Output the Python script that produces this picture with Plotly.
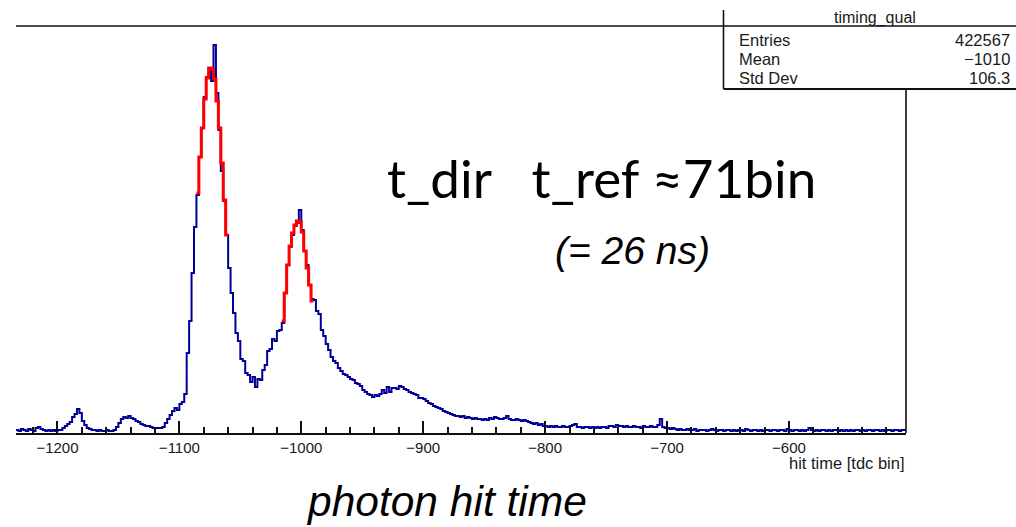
import numpy as np
import plotly.graph_objects as go

# ---- histogram "timing_qual": photon hit time, 2 tdc bins per entry ----
BIN_LO = -1234
BIN_W = 2

counts = [
    # -1233 .. -1105
    90, 60, 120, 90, 60, 120, 90, 60, 150, 180,
    120, 90, 60, 90, 60, 90, 60, 90, 90, 150,
    210, 270, 330, 480, 570, 720, 600, 360, 240, 150,
    120, 90, 90, 60, 90, 60, 60, 90, 60, 60,
    90, 180, 300, 420, 480, 450, 510, 450, 420, 360,
    330, 270, 240, 210, 210, 180, 150, 150, 150, 150,
    180, 300, 420, 540, 660,
    # -1103 .. -1017
    750, 690, 870, 930, 1170, 2400, 3360, 4800, 6180, 7140,
    8280, 9150, 10080, 10680, 10860, 10560, 11640, 10200, 9090, 7860,
    6960, 5940, 4950, 4200, 3600, 3000, 2760, 2220, 2160, 1800,
    1740, 1530, 1680, 1380, 1620, 1590, 1890, 2040, 2460, 2520,
    2820, 2760, 3060, 3090,
    # -1015 .. -871
    3300, 4200, 5040, 5580, 5940, 6210, 6300, 6690, 6090, 5460,
    5040, 4440, 4020, 3990, 3660, 3570, 3090, 2910, 2670, 2490,
    2280, 2160, 2100, 1950, 1860, 1770, 1740, 1680, 1620, 1590,
    1500, 1470, 1410, 1290, 1230, 1170, 1140, 1080, 1140, 1110,
    1170, 1290, 1200, 1380, 1230, 1350, 1350, 1320, 1410, 1380,
    1320, 1290, 1230, 1200, 1170, 1140, 1050, 1050, 1020, 960,
    900, 870, 810, 780, 750, 720, 660, 630, 600, 570,
    540, 510, 510,
    # -869 .. -505
    480, 510, 450, 480, 450, 420, 450, 420, 420, 390,
    420, 390, 450, 420, 480, 450, 420, 420, 450, 510,
    420, 390, 390, 420, 390, 360, 390, 360, 330, 300,
    270, 300, 240, 270, 210, 210, 180, 210, 180, 210,
    180, 180, 210, 180, 180, 210, 240, 270, 180, 180,
    150, 180, 180, 150, 180, 150, 180, 150, 180, 180,
    150, 210, 210, 180, 240, 210, 210, 180, 210, 180,
    180, 210, 180, 180, 150, 210, 180, 180, 210, 180,
    180, 240, 420, 180, 150, 150, 120, 150, 120, 90,
    120, 90, 90, 120, 90, 90, 120, 60, 90, 90,
    90, 60, 90, 120, 90, 60, 90, 90, 60, 90,
    90, 60, 90, 60, 90, 90, 60, 120, 90, 60,
    90, 90, 60, 90, 60, 90, 90, 60, 90, 90,
    60, 90, 90, 60, 120, 90, 60, 90, 90, 60,
    90, 60, 90, 150, 90, 60, 90, 60, 90, 90,
    60, 90, 60, 90, 90, 60, 90, 60, 90, 60,
    90, 60, 90, 90, 60, 90, 60, 90, 90, 60,
    90, 90, 60, 90, 60, 90, 90, 60, 90, 90,
    60, 90, 90,
]

# gaussian fits of the direct and reflected photon peaks
FIT_DIR_LO = -1086
fit_dir = [7200, 8280, 9150, 10020, 10650, 10950, 10920, 10620, 9960, 9150,
           8100, 6990, 5940]
FIT_REF_LO = -1016
fit_ref = [3360, 4200, 5040, 5610, 6000, 6240, 6360, 6330, 6030, 5460,
           4950, 4440, 3960]

X_MIN, X_MAX = -1234, -504
Y_MAX = 12210

major_ticks = [-1200, -1100, -1000, -900, -800, -700, -600]
major_text = ["\u22121200", "\u22121100", "\u22121000", "\u2212900",
              "\u2212800", "\u2212700", "\u2212600"]
minor_ticks = [v for v in range(-1220, -500, 20) if v % 100 != 0]

hist_name = "timing_qual"
stats_labels = ["Entries", "Mean", "Std Dev"]
stats_values = ["422567", "\u22121010", "106.3"]

# ---- page geometry (pixels) ----
W, H = 1016, 527
PL, PR, PT, PB = 16, 906, 26, 433


def px(x):
    return (x - PL) / (PR - PL)


def py(y):
    return (PB - y) / (PB - PT)


def steps(lo, vals):
    edges = lo + BIN_W * np.arange(len(vals) + 1)
    return edges, list(vals) + [vals[-1]]


fig = go.Figure()

hx, hy = steps(BIN_LO, counts)
fig.add_trace(go.Scatter(x=hx, y=hy, mode="lines", line_shape="hv",
                         line=dict(color="#000099", width=2),
                         hoverinfo="skip", showlegend=False))

for lo, vals in ((FIT_DIR_LO, fit_dir), (FIT_REF_LO, fit_ref)):
    fx, fy = steps(lo, vals)
    fig.add_trace(go.Scatter(x=fx, y=fy, mode="lines", line_shape="hv",
                             line=dict(color="#ff0000", width=3),
                             hoverinfo="skip", showlegend=False))

black = "#111111"
line_style = dict(color=black, width=1.6)
shapes = [
    # frame top / stats separator
    dict(type="line", xref="paper", yref="paper",
         x0=px(PL), x1=px(W), y0=py(26), y1=py(26), line=line_style),
    # frame right side below the stats box
    dict(type="line", xref="paper", yref="paper",
         x0=px(906), x1=px(906), y0=py(89), y1=py(PB), line=line_style),
    # stats box
    dict(type="line", xref="paper", yref="paper",
         x0=px(723.5), x1=px(723.5), y0=py(10), y1=py(89), line=line_style),
    dict(type="line", xref="paper", yref="paper",
         x0=px(723.5), x1=px(W), y0=py(89), y1=py(89),
         line=dict(color=black, width=2)),
]

root_font = "Liberation Sans, Arial, sans-serif"
label_font = dict(family=root_font, size=16.5, color="#1a1a1a")
annotations = [
    dict(text=hist_name, x=px(875), y=py(18), xref="paper", yref="paper",
         showarrow=False, xanchor="center", yanchor="middle",
         font=dict(family=root_font, size=16, color="#1a1a1a")),
]
for i, (lab, val) in enumerate(zip(stats_labels, stats_values)):
    yy = 40 + 19 * i
    annotations.append(dict(text=lab, x=px(737), y=py(yy), xref="paper", yref="paper",
                            showarrow=False, xanchor="left", yanchor="middle",
                            font=label_font))
    annotations.append(dict(text=val, x=px(1012), y=py(yy), xref="paper", yref="paper",
                            showarrow=False, xanchor="right", yanchor="middle",
                            font=label_font))

annotations += [
    dict(text="hit time [tdc bin]", x=px(907), y=py(463), xref="paper", yref="paper",
         showarrow=False, xanchor="right", yanchor="middle",
         font=dict(family=root_font, size=16.5, color="#1a1a1a")),
    dict(text="t_dir\u00a0\u00a0 t_ref \u224871bin", x=px(601), y=py(177),
         xref="paper", yref="paper", showarrow=False, xanchor="center", yanchor="middle",
         font=dict(family="Lato, sans-serif", size=53, color="black")),
    dict(text="<i>(= 26 ns)</i>", x=px(632), y=py(250), xref="paper", yref="paper",
         showarrow=False, xanchor="center", yanchor="middle",
         font=dict(family=root_font, size=39, color="black")),
    dict(text="<i>photon hit time</i>", x=px(446), y=py(502), xref="paper", yref="paper",
         showarrow=False, xanchor="center", yanchor="middle",
         font=dict(family=root_font, size=42.5, color="black")),
]

fig.update_layout(
    width=W, height=H,
    margin=dict(l=PL, r=W - PR, t=PT, b=H - PB, pad=0),
    paper_bgcolor="white", plot_bgcolor="white",
    xaxis=dict(range=[X_MIN, X_MAX], tickmode="array", tickvals=major_ticks,
               ticktext=major_text, ticks="inside", ticklen=12, tickwidth=1.5,
               tickcolor=black, showline=True, linecolor=black, linewidth=1.6,
               showgrid=False, zeroline=False,
               tickfont=dict(family=root_font, size=15, color="#1a1a1a"),
               minor=dict(tickmode="array", tickvals=minor_ticks, ticks="inside",
                          ticklen=6, tickwidth=1.5, tickcolor=black, showgrid=False)),
    yaxis=dict(range=[0, Y_MAX], visible=False, fixedrange=True),
    shapes=shapes,
    annotations=annotations,
)

fig.write_html("out.html")
